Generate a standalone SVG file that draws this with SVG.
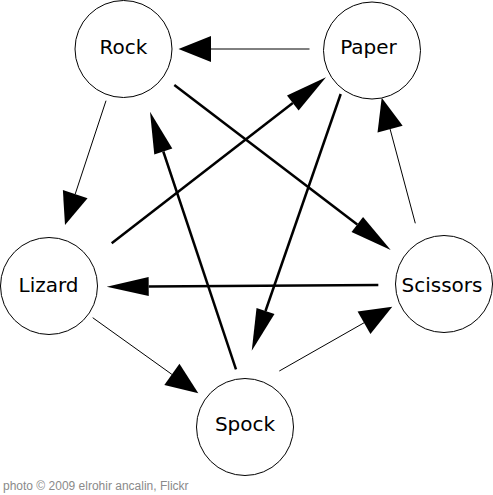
<svg xmlns="http://www.w3.org/2000/svg" width="493" height="495" viewBox="0 0 493 495">
<style>
.node circle{fill:#fff;stroke:#000;stroke-width:1}
.node text{font-family:"DejaVu Sans",sans-serif;font-size:20px;fill:#000;text-anchor:middle}
.thin{stroke:#000;stroke-width:1;fill:none;marker-end:url(#hThin)}
.thick{stroke:#000;stroke-width:2.5;fill:none;marker-end:url(#hThick)}
.credit{font-family:"Liberation Sans",Arial,sans-serif;font-size:12px;fill:#8a8a8a}
</style>
<defs>
<marker id="hThin" markerUnits="userSpaceOnUse" orient="auto" refX="0" refY="0" markerWidth="40" markerHeight="30" overflow="visible">
<path d="M0,-13 L32.5,0 L0,13 Z" fill="#000"/>
</marker>
<marker id="hThick" markerUnits="userSpaceOnUse" orient="auto" refX="0" refY="0" markerWidth="50" markerHeight="30" overflow="visible">
<path d="M0,-9.5 L42,0 L0,9.5 Z" fill="#000"/>
</marker>
</defs>
<rect width="493" height="495" fill="#fff"/>
<g id="connectors">
<line class="thin" x1="309.5" y1="49" x2="211" y2="49"/>
<line class="thin" x1="106" y1="100.7" x2="75.2" y2="194.1"/>
<line class="thick" x1="174.3" y1="85" x2="357.3" y2="224.5"/>
<line class="thick" x1="111.7" y1="243.3" x2="292.8" y2="103"/>
<line class="thick" x1="340.7" y1="94" x2="265.5" y2="311"/>
<line class="thick" x1="236" y1="369.3" x2="163.3" y2="151.5"/>
<line class="thin" x1="415.3" y1="223.3" x2="390.1" y2="129.1"/>
<line class="thick" x1="378.3" y1="285" x2="148.7" y2="286.4"/>
<line class="thin" x1="92.7" y1="317.7" x2="171.9" y2="374.4"/>
<line class="thin" x1="279.3" y1="371" x2="364" y2="322.8"/>
</g>
<g id="rock" class="node"><circle cx="123.5" cy="49" r="48.5"/><text x="123.5" y="54">Rock</text></g>
<g id="paper" class="node"><circle cx="372" cy="50.5" r="48.5"/><text x="368.5" y="54">Paper</text></g>
<g id="lizard" class="node"><circle cx="49" cy="286" r="48.5"/><text x="48.5" y="291.5">Lizard</text></g>
<g id="scissors" class="node"><circle cx="444" cy="284" r="48.5"/><text x="442" y="291.5">Scissors</text></g>
<g id="spock" class="node"><circle cx="245" cy="427" r="48.5"/><text x="245" y="431">Spock</text></g>
<text class="credit" x="3" y="490">photo © 2009 elrohir ancalin, Flickr</text>
</svg>
